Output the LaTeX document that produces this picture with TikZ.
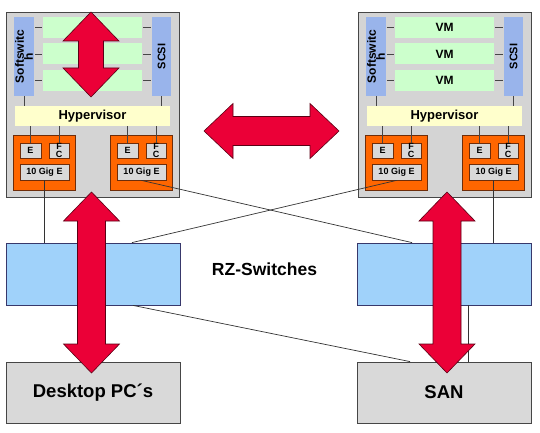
\documentclass[tikz,border=0pt]{standalone}
\usepackage{fontspec}
\setmainfont{Liberation Sans}

\definecolor{servergrau}{RGB}{212,212,212}
\definecolor{kastengrau}{RGB}{217,217,217}
\definecolor{randgrau}{RGB}{70,70,70}
\definecolor{barblau}{RGB}{153,180,235}
\definecolor{vmgruen}{RGB}{204,255,204}
\definecolor{hypgelb}{RGB}{255,255,204}
\definecolor{nicorange}{RGB}{255,102,0}
\definecolor{nicrand}{RGB}{110,45,10}
\definecolor{switchblau}{RGB}{160,210,250}
\definecolor{pfeilrot}{RGB}{235,0,55}
\definecolor{pfeilrand}{RGB}{90,0,20}

\tikzset{
  box/.style={rectangle, draw=randgrau, line width=0.8pt, inner sep=0pt, font=\bfseries},
  server/.style={box, fill=servergrau},
  bar/.style={box, fill=barblau, draw=none, align=center},
  vm/.style={box, fill=vmgruen, draw=none, minimum width=99, minimum height=21, font=\fontsize{12}{14}\selectfont\bfseries},
  hyp/.style={box, fill=hypgelb, draw=none, font=\fontsize{13}{15}\selectfont\bfseries},
  nic/.style={box, fill=nicorange, draw=nicrand},
  kasten/.style={box, fill=kastengrau, draw=nicrand, font=\fontsize{9}{8}\selectfont\bfseries, align=center},
  switch/.style={box, fill=switchblau, draw=randgrau!80!blue, minimum width=174, minimum height=62},
  geraet/.style={box, fill=kastengrau, minimum width=174, minimum height=61, font=\fontsize{18.5}{20}\selectfont\bfseries},
  strich/.style={draw=randgrau, line width=0.8pt},
  leitung/.style={draw=black!80, line width=0.7pt},
  pfeil/.style={fill=pfeilrot, draw=pfeilrand, line width=0.6pt, line join=miter}
}

% Doppelpfeil senkrecht: x, y oben, y unten, halbe Schaftbreite
\newcommand{\vpfeil}[4]{
  \filldraw[pfeil] (#1,#2) -- (#1+28,#2+29) -- (#1+#4,#2+29) -- (#1+#4,#3-29) -- (#1+28,#3-29) -- (#1,#3)
    -- (#1-28,#3-29) -- (#1-#4,#3-29) -- (#1-#4,#2+29) -- (#1-28,#2+29) -- cycle;
}
% Doppelpfeil waagrecht: y, x links, x rechts, halbe Schaftbreite
\newcommand{\hpfeil}[4]{
  \filldraw[pfeil] (#2,#1) -- (#2+29,#1-27.5) -- (#2+29,#1-#4) -- (#3-29,#1-#4) -- (#3-29,#1-27.5) -- (#3,#1)
    -- (#3-29,#1+27.5) -- (#3-29,#1+#4) -- (#2+29,#1+#4) -- (#2+29,#1+27.5) -- cycle;
}

\begin{document}
\begin{tikzpicture}[x=1pt,y=-1pt]
  \useasboundingbox (0,0) rectangle (540,433);

  %Server
  \foreach \s/\ox/\vmtext in {l/0/{},r/352/VM}{
    \node[server, minimum width=173, minimum height=185] (\s-server) at (\ox+92.5,104.5) {};
    \node[bar, rotate=90, minimum width=79, minimum height=20, font=\fontsize{12}{9}\selectfont\bfseries] (\s-soft) at (\ox+24,56.5) {Softswitc\\h};
    \node[bar, rotate=90, minimum width=79, minimum height=19, font=\fontsize{11}{12}\selectfont\bfseries] (\s-scsi) at (\ox+161.5,56.5) {SCSI};
    \node[hyp, minimum width=155, minimum height=20] (\s-hyp) at (\ox+92.5,116) {Hypervisor};
    \foreach \i/\vy in {1/27.5,2/54,3/80.5}{
      \node[vm] (\s-vm\i) at (\ox+92.5,\vy) {\vmtext};
      \draw[strich] ([xshift=-1pt]\s-vm\i.west) -- ++(-7,0);
      \draw[strich] ([xshift=1pt]\s-vm\i.east) -- ++(8,0);
    }
    \draw[strich] (\s-soft.west) -- (\s-soft.west |- \s-hyp.north);
    \draw[strich] (\s-scsi.west) -- (\s-scsi.west |- \s-hyp.north);

    %Netzwerkkarten
    \foreach \n/\nx in {1/44,2/141}{
      \node[nic, minimum width=62, minimum height=55] (\s-nic\n) at (\ox+\nx,162.5) {};
      \node[kasten, minimum width=21, minimum height=15] (\s-e\n) at (\ox+\nx-13.5,150.5) {E};
      \node[kasten, minimum width=20, minimum height=15] (\s-fc\n) at (\ox+\nx+15,150.5) {F\\C};
      \node[kasten, minimum width=49, minimum height=16, font=\fontsize{9}{10}\selectfont\bfseries] (\s-gig\n) at (\ox+\nx+0.5,172) {10 Gig E};
      \draw[strich] (\s-e\n.north) -- (\s-e\n.north |- \s-hyp.south);
      \draw[strich] (\s-fc\n.north) -- (\s-fc\n.north |- \s-hyp.south);
    }
  }

  %Switches und Endgeraete
  \node[switch] (lsw) at (93,274) {};
  \node[switch] (rsw) at (444,274) {};
  \node[font=\fontsize{17.5}{19}\selectfont\bfseries] (rz) at (264.5,269) {RZ-Switches};
  \node[geraet] (pc) at (93,392.5) {Desktop PC´s};
  \node[geraet] (san) at (444,392.5) {SAN};

  %Leitungen
  \draw[leitung] (l-gig1.south) -- (l-gig1.south |- lsw.north);
  \draw[leitung] (l-gig2.south) -- ([xshift=-32pt]rsw.north);
  \draw[leitung] (r-gig1.south) -- ([xshift=39pt]lsw.north);
  \draw[leitung] (r-gig2.south) -- (r-gig2.south |- rsw.north);
  \draw[leitung] ([xshift=40pt]lsw.south) -- ([xshift=-34pt]san.north);
  \draw[leitung] ([xshift=24pt]rsw.south) -- ([xshift=24pt]san.north);

  %Pfeile
  \vpfeil{91}{12}{97}{12.5}
  \hpfeil{131}{204}{339}{14.5}
  \vpfeil{91.5}{192}{373}{14}
  \vpfeil{447}{192}{373}{14}
\end{tikzpicture}
\end{document}
